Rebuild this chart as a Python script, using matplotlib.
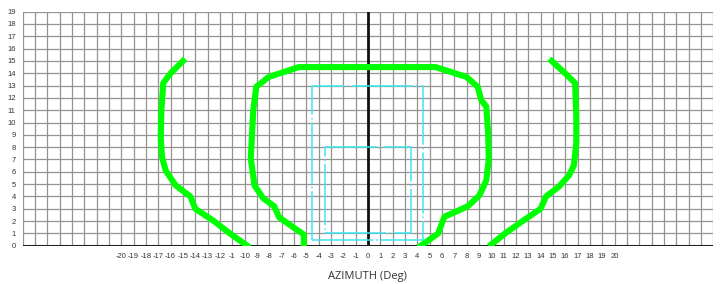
import matplotlib
matplotlib.use("Agg")
import matplotlib.pyplot as plt

# x tick labels shown under the axis (the -11 label reads "-1" in the source)
x_ticks = list(range(-20, 21))
x_labels = [str(v) for v in x_ticks]
x_labels[x_ticks.index(-11)] = "-1"
y_ticks = list(range(0, 20))

# green coverage outlines (azimuth, elevation)
left_x = [-15, -16, -16.6, -16.75, -16.8, -16.7, -16.4, -15.6, -14.4, -14, -12.5, -11.2, -9.8]
left_y = [15, 14, 13.2, 11, 8.8, 7.2, 6.1, 4.9, 4, 3, 2, 1, 0]

right_x = [14.9, 16.1, 16.8, 16.9, 16.9, 16.7, 16.3, 15.5, 14.45, 14, 12.55, 11.2, 10]
right_y = [15, 13.9, 13.2, 10.5, 8.3, 6.5, 5.7, 4.8, 4, 3, 2, 1.05, 0.1]

mid_x = [-5.2, -5.2, -7.2, -7.6, -8.5, -9.2, -9.5, -9.3, -9.05, -8.05, -5.6,
         5.5, 8, 8.9, 9.2, 9.6, 9.75, 9.8, 9.6, 9.05, 8.1, 6.2, 5.7, 4.3]
mid_y = [0, 0.9, 2.3, 3.2, 3.85, 4.9, 7.1, 11, 12.9, 13.7, 14.5,
         14.5, 13.7, 12.9, 11.8, 11.3, 9.1, 7, 5.3, 4.1, 3.2, 2.35, 1.0, 0]

# cyan boxes
outer_box_x = [-4.5, 4.5, 4.5, -4.5, -4.5]
outer_box_y = [0.5, 0.5, 13, 13, 0.5]
inner_box_x = [-3.5, 3.5, 3.5, -3.5, -3.5]
inner_box_y = [1, 1, 8, 8, 1]

fig = plt.figure(figsize=(7.2, 2.84), dpi=100)
ax = fig.add_axes([0.0315, 0.1349, 0.959, 0.824])
ax.set_xlim(-28, 28)
ax.set_ylim(0, 19)

# grid every degree
for v in range(-28, 29):
    ax.axvline(v, color="#939393", lw=0.9, zorder=1)
for v in range(0, 20):
    ax.axhline(v, color="#939393", lw=0.9, zorder=1)

ax.axvline(0, color="#111111", lw=2, zorder=2)
ax.axhline(0, color="#222222", lw=2.2, zorder=2)

cyan = "#3ee6f2"
ax.plot(outer_box_x, outer_box_y, color=cyan, lw=1.1, dashes=(40, 2, 1, 2), zorder=3)
ax.plot(inner_box_x, inner_box_y, color=cyan, lw=1.1, dashes=(40, 2, 1, 2), zorder=3)

green = "#00ff00"
for xs, ys in [(left_x, left_y), (right_x, right_y), (mid_x, mid_y)]:
    ax.plot(xs, ys, color=green, lw=4.4, solid_joinstyle="round", zorder=4)

for s in ax.spines.values():
    s.set_visible(False)

ax.set_xticks(x_ticks)
ax.set_xticklabels(x_labels, fontsize=5.5, color="#333333", family="Liberation Sans")
ax.set_yticks(y_ticks)
ax.set_yticklabels([str(v) for v in y_ticks], fontsize=5.5, color="#333333", family="Liberation Sans")
ax.tick_params(length=0)
ax.tick_params(axis="x", pad=5)
ax.tick_params(axis="y", pad=5)

ax.set_xlabel("AZIMUTH (Deg)", fontsize=8, color="#333333", family="Open Sans", labelpad=8)

fig.savefig("out.png", dpi=100)
